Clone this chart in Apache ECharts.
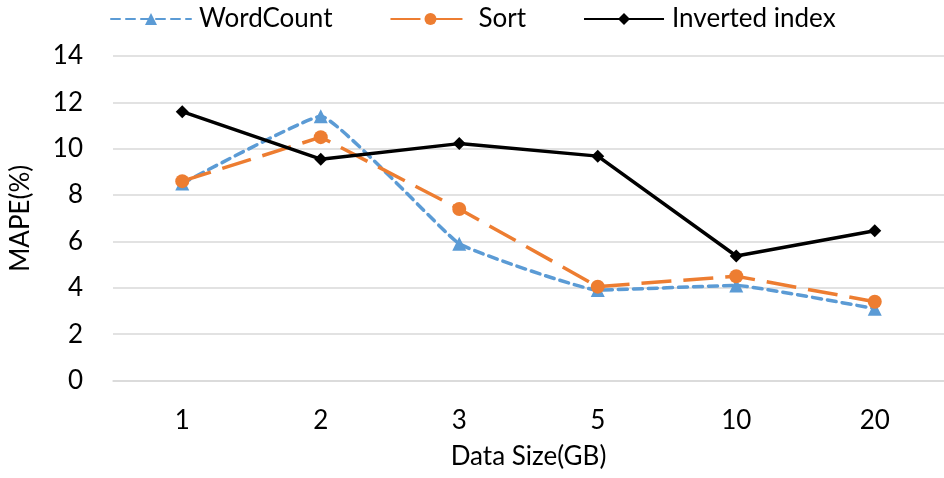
<!DOCTYPE html>
<html><head><meta charset="utf-8">
<script src="https://cdn.jsdelivr.net/npm/echarts@6/dist/echarts.min.js"></script>
<style>html,body{margin:0;padding:0;background:#fff}#c{width:944px;height:478px}</style>
</head><body><div id="c"></div>
<script>
const categories = ['1', '2', '3', '5', '10', '20'];
const wordCount = [8.5, 11.4, 5.9, 3.9, 4.1, 3.1];
const sortVals = [8.6, 10.5, 7.4, 4.05, 4.5, 3.4];
const invertedIndex = [11.6, 9.55, 10.22, 9.68, 5.37, 6.46];
const yTicks = { min: 0, max: 14, interval: 2 };

const FONT = 'Lato, "Liberation Sans", sans-serif';
const chart = echarts.init(document.getElementById('c'));
chart.setOption({
  animation: false,
  textStyle: { fontFamily: FONT },
  legend: {
    top: 1, left: 105, itemWidth: 80, itemHeight: 15, itemGap: 57,
    textStyle: { fontSize: 26, color: '#000', fontFamily: FONT, padding: [0, 0, 0, 3] },
    data: ['WordCount', 'Sort', 'Inverted index']
  },
  grid: { left: 107, right: 0, top: 56, bottom: 97.5 },
  xAxis: {
    type: 'category', data: categories, boundaryGap: true,
    axisLine: { lineStyle: { color: '#d9d9d9', width: 1.5 } },
    axisTick: { show: false },
    axisLabel: { fontSize: 26, color: '#000', margin: 27, fontFamily: FONT },
    name: 'Data Size(GB)', nameLocation: 'middle', nameGap: 63,
    nameTextStyle: { fontSize: 26, color: '#000', fontFamily: FONT }
  },
  yAxis: {
    type: 'value', min: yTicks.min, max: yTicks.max, interval: yTicks.interval,
    axisLine: { show: false }, axisTick: { show: false },
    splitLine: { lineStyle: { color: '#d9d9d9', width: 1.5 } },
    axisLabel: { fontSize: 26, color: '#000', margin: 30, fontFamily: FONT },
    name: 'MAPE(%)', nameLocation: 'middle', nameGap: 79, nameRotate: 90,
    nameTextStyle: { fontSize: 26, color: '#000', fontFamily: FONT }
  },
  series: [
    {
      name: 'WordCount', type: 'line', data: wordCount, smooth: 0.1,
      symbol: 'triangle', symbolSize: 14,
      lineStyle: { color: '#5B9BD5', width: 3.5, type: [9, 6], cap: 'round' },
      itemStyle: { color: '#5B9BD5' }, z: 2
    },
    {
      name: 'Sort', type: 'line', data: sortVals,
      symbol: 'circle', symbolSize: 14,
      lineStyle: { color: '#ED7D31', width: 3.5, type: [30, 12] },
      itemStyle: { color: '#ED7D31' }, z: 3
    },
    {
      name: 'Inverted index', type: 'line', data: invertedIndex,
      symbol: 'diamond', symbolSize: 13,
      lineStyle: { color: '#000', width: 3.5 },
      itemStyle: { color: '#000' }, z: 4
    }
  ]
});
</script></body></html>
